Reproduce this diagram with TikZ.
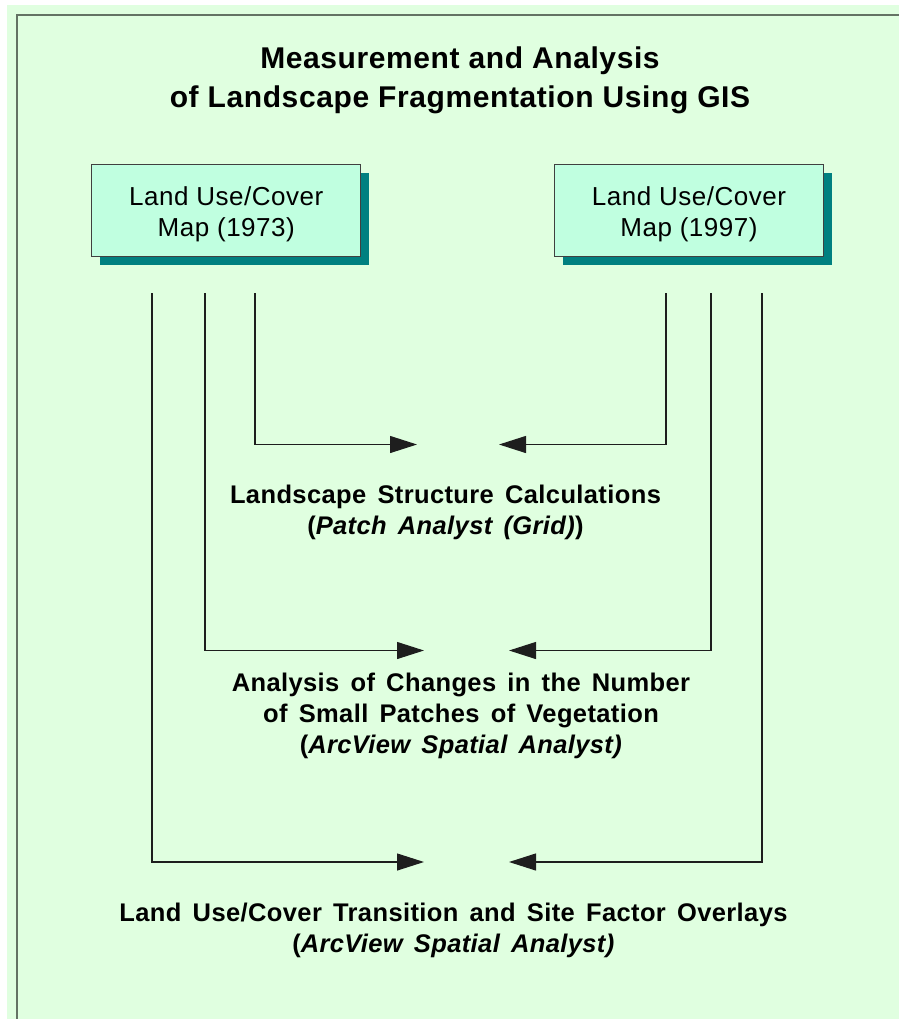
\documentclass[tikz,border=0pt]{standalone}
\usepackage{fontspec}
\setmainfont{Liberation Sans}
\newfontfamily\titlefont[LetterSpace=2,WordSpace=1.2]{Liberation Sans}
\newfontfamily\boxfont[LetterSpace=2]{Liberation Sans}
\newfontfamily\labelfont[LetterSpace=1.5,WordSpace=1.5]{Liberation Sans}
\usetikzlibrary{arrows.meta,shadows}
\definecolor{pagegreen}{RGB}{224,255,224}
\definecolor{mapfill}{RGB}{192,255,224}
\definecolor{shadowteal}{RGB}{0,128,128}
\definecolor{framegray}{RGB}{100,115,100}
\definecolor{wirecol}{RGB}{30,30,30}
\begin{document}
\begin{tikzpicture}[x=1pt,y=-1pt,
  mapbox/.style={draw=black!75, line width=1pt, fill=mapfill,
    minimum width=269pt, minimum height=92pt, inner sep=0pt, align=center,
    font=\boxfont\fontsize{26}{31}\selectfont,
    drop shadow={shadow xshift=8pt, shadow yshift=-8pt, fill=shadowteal, opacity=1}},
  steplabel/.style={align=center, inner sep=0pt,
    font=\labelfont\bfseries\fontsize{25.5}{31}\selectfont},
  titlelabel/.style={align=center, inner sep=0pt,
    font=\titlefont\bfseries\fontsize{30}{39}\selectfont},
  wire/.style={draw=wirecol, line width=1.1pt},
  feed/.style={wire, -{Triangle[length=27pt,width=17pt]}}
]
\useasboundingbox (0,0) rectangle (899,1019);
% page and frame
\fill[white] (0,0) rectangle (899,1019);
\fill[pagegreen] (7,5) rectangle (899,1019);
\draw[framegray, line width=2pt] (17,1019) -- (17,15) -- (899,15);

% title
\node[titlelabel] (title) at (460,80.5) {Measurement and Analysis\\of Landscape Fragmentation Using GIS};

% input maps (the strut lowers the two lines a little inside the box)
\node[mapbox] (mapA) at (226.3,210.7) {\rule{0pt}{25pt}Land Use/Cover\\Map (1973)};
\node[mapbox] (mapB) at (689,210.7) {\rule{0pt}{25pt}Land Use/Cover\\Map (1997)};

% analysis steps
\node[steplabel] (calc) at (445.5,512) {Landscape Structure Calculations\\(\textit{Patch Analyst (Grid)})};
\node[steplabel] (small) at (461,716) {Analysis of Changes in the Number\\of Small Patches of Vegetation\\(\textit{ArcView Spatial Analyst)}};
\node[steplabel] (trans) at (453.5,930) {Land Use/Cover Transition and Site Factor Overlays\\(\textit{ArcView Spatial Analyst)}};

% connector ends
\coordinate (a1) at (152,293);
\coordinate (a2) at (205,293);
\coordinate (a3) at (255,293);
\coordinate (b1) at (762,293);
\coordinate (b2) at (711,293);
\coordinate (b3) at (666,293);
\coordinate (calcL) at (417,444.5);
\coordinate (calcR) at (499,444.5);
\coordinate (smallL) at (424,650.5);
\coordinate (smallR) at (509,650.5);
\coordinate (transL) at (424,862);
\coordinate (transR) at (509,862);

% connectors
\draw[feed] (a3) |- (calcL);
\draw[feed] (b3) |- (calcR);
\draw[feed] (a2) |- (smallL);
\draw[feed] (b2) |- (smallR);
\draw[feed] (a1) |- (transL);
\draw[feed] (b1) |- (transR);
\end{tikzpicture}
\end{document}
